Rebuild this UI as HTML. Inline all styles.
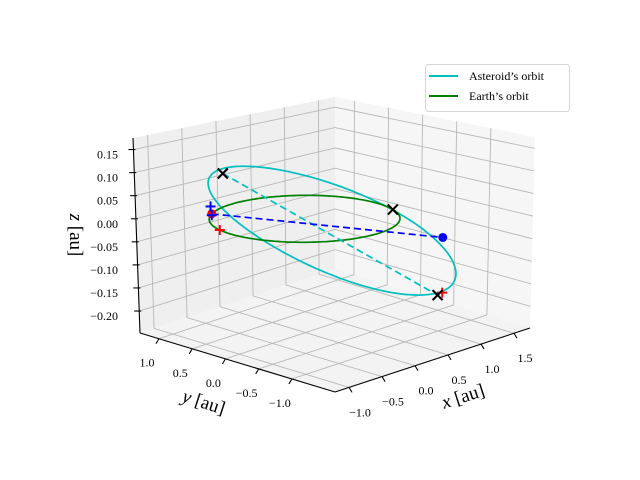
<!DOCTYPE html>
<html><head><meta charset="utf-8"><style>
body{margin:0;background:#fff}
svg{display:block}
text{font-family:"Liberation Serif",serif;fill:#000}
</style></head><body>
<svg id="c" width="640" height="480" viewBox="0 0 640 480"></svg>
<script>
// ---- data ----
const xRange=[-1.213,1.742];
const yRange=[-1.648,1.285];
const zRange=[-0.2476,0.175];
const xTicks=[-1.0,-0.5,0.0,0.5,1.0,1.5];
const yTicks=[-1.0,-0.5,0.0,0.5,1.0];
const zTicks=[-0.20,-0.15,-0.10,-0.05,0.00,0.05,0.10,0.15];
const xTickLabels=["−1.0","−0.5","0.0","0.5","1.0","1.5"];
const yTickLabels=["−1.0","−0.5","0.0","0.5","1.0"];
const zTickLabels=["−0.20","−0.15","−0.10","−0.05","0.00","0.05","0.10","0.15"];
const earthRadius=[1.0];
const asteroidCenter=[0.21,-0.21,-0.022];
const asteroidAxisU=[0.919,-0.919,-0.100];
const asteroidAxisV=[0.894,0.894,0.034];
const earthNow=[-0.52,0.855,0];
const asteroidNow=[1.48,-0.58,-0.078];
const earthMarks=[[-0.95,0.31,0],[0.62,-1.43,-0.13]];
const asteroidMarks=[[-0.16,1.04,0.07],[0.52,-1.46,-0.13],[0.92,-0.39,0]];
const bluePlus=[[-0.58,0.81,0.02],[-0.52,0.855,-0.003]];
// ---- projection (box corners in screen space) ----
const C={F0:[335,392],R0:[530,328],L0:[140,333],B0:[335,269],F1:[335,177],R1:[535,137],L1:[133,138],B1:[335,97]};
function P(x,y,z){
 const u=(x-xRange[0])/(xRange[1]-xRange[0]), v=(y-yRange[0])/(yRange[1]-yRange[0]), w=(z-zRange[0])/(zRange[1]-zRange[0]);
 const bl=(a,b,c,d)=>[0,1].map(i=>a[i]*(1-u)*(1-v)+b[i]*u*(1-v)+c[i]*(1-u)*v+d[i]*u*v);
 const lo=bl(C.F0,C.R0,C.L0,C.B0), hi=bl(C.F1,C.R1,C.L1,C.B1);
 return [lo[0]+(hi[0]-lo[0])*w, lo[1]+(hi[1]-lo[1])*w];
}
const svg=document.getElementById('c');
const NS='http://www.w3.org/2000/svg';
function mk(tag,attrs,parent){const e=document.createElementNS(NS,tag);for(const k in attrs)e.setAttribute(k,attrs[k]);(parent||svg).appendChild(e);return e;}
function pts(a){return a.map(p=>p[0].toFixed(1)+','+p[1].toFixed(1)).join(' ');}
const [x0,x1]=xRange,[y0,y1]=yRange,[z0,z1]=zRange;
let e;
e=mk('polygon',{points:pts([P(x0,y1,z1),P(x1,y1,z1),P(x1,y1,z0),P(x0,y1,z0)]),fill:'#efefef'});

e=mk('polygon',{points:pts([P(x1,y1,z1),P(x1,y0,z1),P(x1,y0,z0),P(x1,y1,z0)]),fill:'#f6f6f6'});

e=mk('polygon',{points:pts([P(x0,y0,z0),P(x1,y0,z0),P(x1,y1,z0),P(x0,y1,z0)]),fill:'#f3f3f3'});

const g=mk('g',{stroke:'#b8b8b8','stroke-width':0.9,fill:'none'});

function ln(a,b,par,st){return mk('line',Object.assign({x1:a[0],y1:a[1],x2:b[0],y2:b[1]},st||{}),par);}
zTicks.forEach(z=>{ln(P(x0,y1,z),P(x1,y1,z),g);ln(P(x1,y1,z),P(x1,y0,z),g);});
xTicks.forEach(x=>{ln(P(x,y0,z0),P(x,y1,z0),g);ln(P(x,y1,z0),P(x,y1,z1),g);});
yTicks.forEach(y=>{ln(P(x0,y,z0),P(x1,y,z0),g);ln(P(x1,y,z0),P(x1,y,z1),g);});
const ax=mk('g',{stroke:'#000','stroke-width':1.1});

ln(P(x0,y1,z0),P(x0,y1,z1),ax);ln(P(x0,y0,z0),P(x1,y0,z0),ax);ln(P(x0,y0,z0),P(x0,y1,z0),ax);
zTicks.forEach((z,i)=>{const p=P(x0,y1,z);ln([p[0]-5,p[1]],[p[0]+2,p[1]],ax);
 const t=mk('text',{x:118,y:p[1]+9,'text-anchor':'end','font-size':12});t.textContent=zTickLabels[i];
 });
xTicks.forEach((x,i)=>{const p=P(x,y0,z0);ln(p,[p[0]+3,p[1]+5],ax);
 const t=mk('text',{x:p[0]+11,y:p[1]+29,'text-anchor':'middle','font-size':12});t.textContent=xTickLabels[i];
 });
yTicks.forEach((y,i)=>{const p=P(x0,y,z0);ln(p,[p[0]-3,p[1]+5],ax);
 const t=mk('text',{x:p[0]-12,y:p[1]+28,'text-anchor':'middle','font-size':12});t.textContent=yTickLabels[i];
 });
e=mk('text',{x:0,y:0,'font-size':19,'text-anchor':'middle',transform:'translate(70,235) rotate(90)'});e.innerHTML='<tspan font-style="italic">z</tspan> [au]';

e=mk('text',{x:0,y:0,'font-size':19,'text-anchor':'middle',transform:'translate(202,408) rotate(18)'});e.innerHTML='<tspan font-style="italic">y</tspan> [au]';

e=mk('text',{x:0,y:0,'font-size':19,'text-anchor':'middle',transform:'translate(465,402) rotate(-18)'});e.innerHTML='<tspan font-style="italic">x</tspan> [au]';

const N=180;let ep=[],ap=[];
for(let i=0;i<=N;i++){const t=2*Math.PI*i/N,c=Math.cos(t),s=Math.sin(t);
 ep.push(P(earthRadius[0]*c,earthRadius[0]*s,0));
 ap.push(P(asteroidCenter[0]+asteroidAxisU[0]*c+asteroidAxisV[0]*s,asteroidCenter[1]+asteroidAxisU[1]*c+asteroidAxisV[1]*s,asteroidCenter[2]+asteroidAxisU[2]*c+asteroidAxisV[2]*s));}
e=mk('polyline',{points:pts(ap),fill:'none',stroke:'#00bfbf','stroke-width':1.7});

e=mk('polyline',{points:pts(ep),fill:'none',stroke:'#008000','stroke-width':1.7});

let a=P(...asteroidMarks[0]),b=P(...asteroidMarks[1]);
e=ln(a,b,svg,{stroke:'#00bfbf','stroke-width':1.7,'stroke-dasharray':'7,4'});

a=P(...earthNow);b=P(...asteroidNow);
e=ln(a,b,svg,{stroke:'#0000ff','stroke-width':1.7,'stroke-dasharray':'7,4'});

function plus(p,col,name){const q=P(...p);const gg=mk('g',{stroke:col,'stroke-width':2});
 ln([q[0]-5,q[1]],[q[0]+5,q[1]],gg);ln([q[0],q[1]-5],[q[0],q[1]+5],gg);
 }
function cross(p,name){const q=P(...p);const gg=mk('g',{stroke:'#000','stroke-width':2});
 ln([q[0]-5,q[1]-5],[q[0]+5,q[1]+5],gg);ln([q[0]-5,q[1]+5],[q[0]+5,q[1]-5],gg);
 }
let q=P(...earthNow);
e=mk('circle',{cx:q[0],cy:q[1],r:4.5,fill:'#ff0000'});

earthMarks.forEach(p=>plus(p,'#ff0000','earth-marker'));
bluePlus.forEach(p=>plus(p,'#0000ff','blue-plus-marker'));
asteroidMarks.forEach(p=>cross(p,'asteroid-marker'));
q=P(...asteroidNow);
e=mk('circle',{cx:q[0],cy:q[1],r:4.5,fill:'#0000ff'});

const lg=mk('g',{});
mk('rect',{x:425.5,y:64.5,width:144,height:47,rx:3,fill:'#fff','fill-opacity':0.8,stroke:'#d6d6d6'},lg);
e=mk('line',{x1:429,y1:76,x2:458,y2:76,stroke:'#00bfbf','stroke-width':2},lg);

e=mk('text',{x:469,y:80,'font-size':12},lg);e.textContent="Asteroid’s orbit";

e=mk('line',{x1:429,y1:96,x2:458,y2:96,stroke:'#008000','stroke-width':2},lg);

e=mk('text',{x:469,y:100,'font-size':12},lg);e.textContent="Earth’s orbit";

</script>
</body></html>
